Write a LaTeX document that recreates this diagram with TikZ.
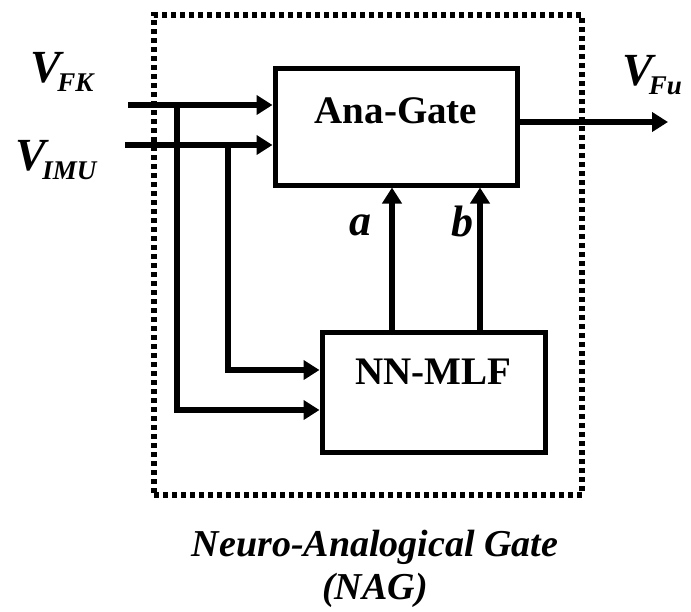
\documentclass[tikz,border=0pt]{standalone}
\usepackage{fontspec}
\setmainfont{Liberation Serif}
\usetikzlibrary{arrows.meta}
\newcommand{\subsig}[1]{\kern-4pt\raisebox{-0.2em}{\fontsize{27}{30}\selectfont\bfseries\itshape #1}}
\tikzset{
  blockbox/.style={draw=black, line width=5pt, minimum width=#1, inner sep=0pt},
  flow/.style={line width=5.5pt, -{Triangle[length=16pt,width=19pt]}},
  boxtext/.style={font=\fontsize{39}{42}\selectfont\bfseries},
  sig/.style={font=\fontsize{46}{50}\selectfont\bfseries\itshape},
  abtext/.style={font=\fontsize{44}{48}\selectfont\bfseries\itshape},
  captext/.style={font=\fontsize{38}{42}\selectfont\bfseries\itshape},
  gatefrm/.style={draw=black, line width=5.5pt, dash pattern=on 5pt off 4pt}
}
\begin{document}
\begin{tikzpicture}[x=1pt,y=-1pt]
\useasboundingbox (0,0) rectangle (691,611);
% outer dotted frame
\node[gatefrm, minimum width=428pt, minimum height=480pt, inner sep=0pt] (nag) at (368,255) {};
% blocks
\node[blockbox=242pt, minimum height=117pt, label={[boxtext, yshift=16pt]center:Ana-Gate}] (ana) at (396,126.5) {};
\node[blockbox=223pt, minimum height=120pt, label={[boxtext, yshift=20pt]center:NN-MLF}] (nn) at (433.5,392) {};
% input coordinates
\coordinate (fk) at (128,105);
\coordinate (imu) at (125,145);
\coordinate (fkbr) at (177,105);
\coordinate (imubr) at (228,145);
\coordinate (fkdn) at (177,410);
\coordinate (imudn) at (228,370);
\coordinate (out) at (668,122);
% labels
\node[sig] (vfk) at (62,72) {V\subsig{FK}};
\node[sig] (vimu) at (56,160) {V\subsig{IMU}};
\node[sig] (vfu) at (652,75) {V\subsig{Fu}};
% connectors
\draw[flow] (fk) -- (ana.west |- fk);
\draw[flow] (imu) -- (ana.west |- imu);
\draw[flow, line cap=round] (fkbr) -- (fkdn) -- (nn.west |- fkdn);
\draw[flow, line cap=round] (imubr) -- (imudn) -- (nn.west |- imudn);
\draw[flow] (ana.east |- out) -- (out);
\draw[flow] (nn.north -| 392,0) -- (ana.south -| 392,0);
\draw[flow] (nn.north -| 480,0) -- (ana.south -| 480,0);
\node[abtext] (la) at (360,225) {a};
\node[abtext] (lb) at (462,221) {b};
% caption
\node[captext] (cap1) at (375,547) {Neuro-Analogical Gate};
\node[captext] (cap2) at (375,590) {(NAG)};
\end{tikzpicture}
\end{document}
